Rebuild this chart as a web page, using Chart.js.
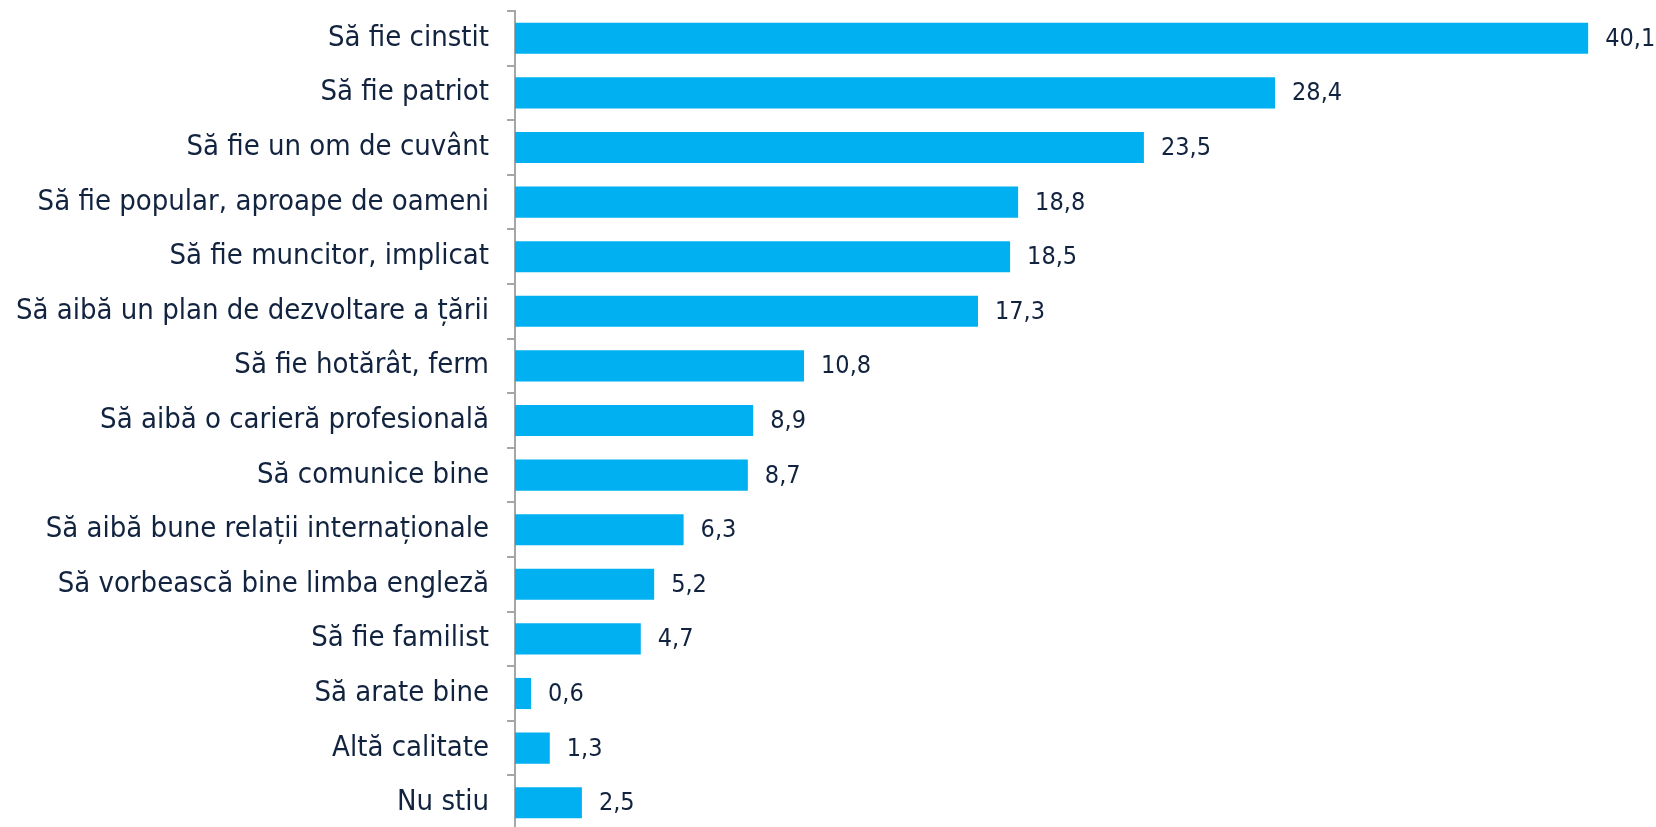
<!DOCTYPE html>
<html>
<head>
<meta charset="utf-8">
<script src="https://cdn.jsdelivr.net/npm/chart.js@4.4.1/dist/chart.umd.min.js"></script>
<style>
  html, body { margin: 0; padding: 0; background: #fff; overflow: hidden; }
  #wrap { width: 1656px; height: 830px; position: relative; }
</style>
</head>
<body>
<div id="wrap"><canvas id="chart"></canvas></div>
<script>
const categories = [
  'Să fie cinstit',
  'Să fie patriot',
  'Să fie un om de cuvânt',
  'Să fie popular, aproape de oameni',
  'Să fie muncitor, implicat',
  'Să aibă un plan de dezvoltare a țării',
  'Să fie hotărât, ferm',
  'Să aibă o carieră profesională',
  'Să comunice bine',
  'Să aibă bune relații internaționale',
  'Să vorbească bine limba engleză',
  'Să fie familist',
  'Să arate bine',
  'Altă calitate',
  'Nu stiu',
];
const values = [40.1, 28.4, 23.5, 18.8, 18.5, 17.3, 10.8, 8.9, 8.7, 6.3, 5.2, 4.7, 0.6, 1.3, 2.5];

const TEXT_COLOR = '#12233f';
const BAR_COLOR = '#00b0f0';
const AXIS_COLOR = '#a6a6a6';
const FONT = '"DejaVu Sans Condensed", "DejaVu Sans", sans-serif';

const valueLabels = {
  id: 'valueLabels',
  afterDatasetsDraw(chart) {
    const { ctx } = chart;
    const meta = chart.getDatasetMeta(0);
    ctx.save();
    ctx.font = `25px ${FONT}`;
    ctx.fillStyle = TEXT_COLOR;
    ctx.textBaseline = 'middle';
    ctx.textAlign = 'left';
    meta.data.forEach((bar, i) => {
      const label = values[i].toFixed(1).replace('.', ',');
      ctx.fillText(label, bar.x + 17, bar.y + 1);
    });
    ctx.restore();
  },
};

new Chart(document.getElementById('chart'), {
  type: 'bar',
  data: {
    labels: categories,
    datasets: [{
      data: values,
      backgroundColor: BAR_COLOR,
      borderWidth: 0,
      categoryPercentage: 1,
      barPercentage: 0.57,
    }],
  },
  options: {
    indexAxis: 'y',
    responsive: true,
    maintainAspectRatio: false,
    animation: false,
    layout: { padding: { top: 11, right: 17, bottom: 0, left: 0 } },
    scales: {
      x: {
        display: false,
        min: 0,
        max: 42,
      },
      y: {
        afterFit: (scale) => {
          scale.width = 515;
          scale.paddingTop = 0;
          scale.paddingBottom = 0;
        },
        border: { display: true, color: AXIS_COLOR, width: 2 },
        grid: {
          drawOnChartArea: false,
          drawTicks: true,
          tickLength: 8,
          color: AXIS_COLOR,
          lineWidth: 2,
        },
        ticks: {
          padding: 18,
          color: TEXT_COLOR,
          font: { family: FONT, size: 29 },
        },
      },
    },
    plugins: {
      legend: { display: false },
      tooltip: { enabled: false },
    },
  },
  plugins: [valueLabels],
});
</script>
</body>
</html>
